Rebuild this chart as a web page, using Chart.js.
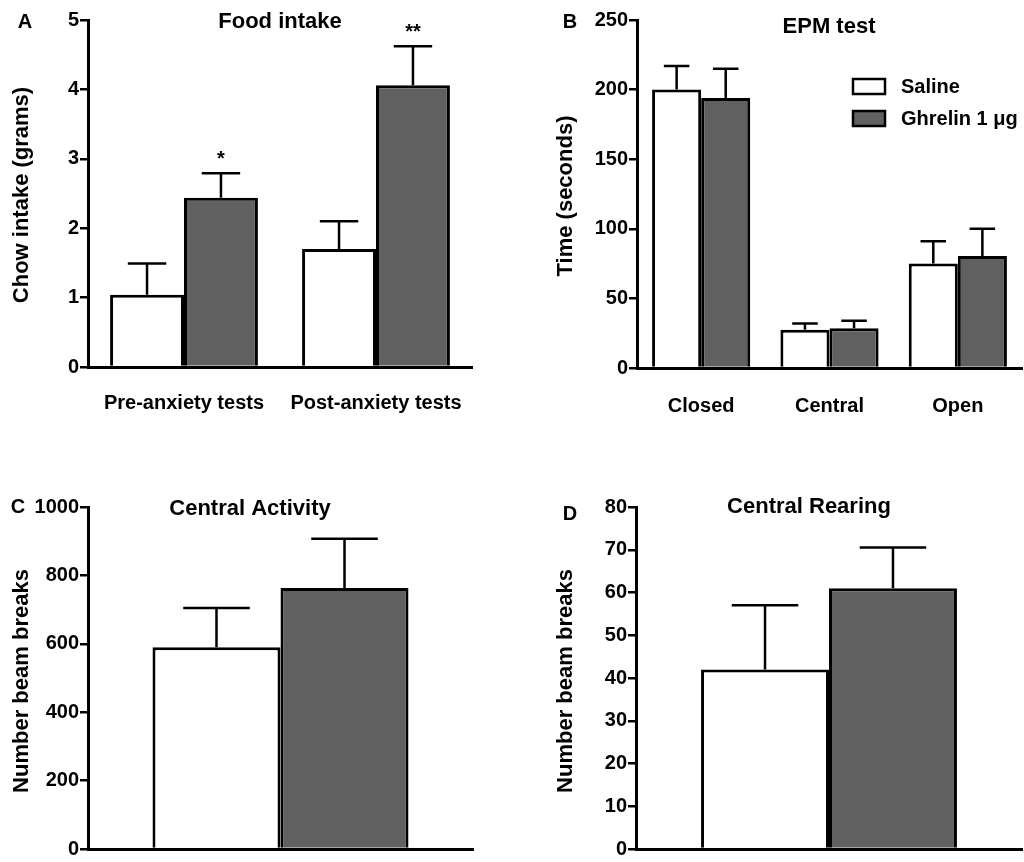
<!DOCTYPE html>
<html>
<head>
<meta charset="utf-8">
<script src="https://cdn.jsdelivr.net/npm/chart.js@4.4.1/dist/chart.umd.min.js"></script>
<style>
html, body { margin: 0; padding: 0; background: #fff; }
#wrap { position: relative; width: 1024px; height: 862px; overflow: hidden; }
canvas { position: absolute; }
</style>
</head>
<body>
<div id="wrap">
    <canvas id="panelA" width="512" height="430" style="left:0;top:0"></canvas>
    <canvas id="panelB" width="512" height="430" style="left:512px;top:0"></canvas>
    <canvas id="panelC" width="512" height="432" style="left:0;top:430px"></canvas>
    <canvas id="panelD" width="512" height="432" style="left:512px;top:430px"></canvas>
</div>
<script>
const seriesNames = ['Saline', 'Ghrelin 1 μg'];

// A: food intake
const foodCats = ['Pre-anxiety tests', 'Post-anxiety tests'];
const foodSaline = [1.04, 1.70];
const foodSalineSem = [0.45, 0.40];
const foodGhrelin = [2.44, 4.06];
const foodGhrelinSem = [0.35, 0.56];
const foodStars = ['*', '**'];

// B: EPM test
const epmCats = ['Closed', 'Central', 'Open'];
const epmSaline = [200, 27.5, 75];
const epmSalineSem = [17, 4.5, 16];
const epmGhrelin = [194, 28.5, 80.5];
const epmGhrelinSem = [21, 5.5, 19.5];

// C: central activity
const activityCats = [''];
const activitySaline = [590];
const activitySalineSem = [115];
const activityGhrelin = [763];
const activityGhrelinSem = [144];

// D: central rearing
const rearingCats = [''];
const rearingSaline = [42];
const rearingSalineSem = [15];
const rearingGhrelin = [61];
const rearingGhrelinSem = [9.5];

const FONT = '"Liberation Sans", Arial, Helvetica, sans-serif';
const FILLS = ['#ffffff', '#606060'];

const errorBars = {
    id: 'errorBars',
    afterDatasetsDraw(chart) {
        const ctx = chart.ctx, y = chart.scales.y;
        ctx.save();
        ctx.strokeStyle = '#000';
        ctx.lineWidth = 2.5;
        chart.data.datasets.forEach((ds, i) => {
            chart.getDatasetMeta(i).data.forEach((bar, j) => {
                const top = y.getPixelForValue(ds.data[j] + ds.sem[j]);
                const half = bar.width * 0.26;
                ctx.beginPath();
                ctx.moveTo(bar.x, bar.y);
                ctx.lineTo(bar.x, top);
                ctx.moveTo(bar.x - half, top);
                ctx.lineTo(bar.x + half, top);
                ctx.stroke();
            });
        });
        ctx.restore();
    }
};

function decoPlugin(deco) {
    return {
        id: 'deco',
        afterDraw(chart) {
            const ctx = chart.ctx;
            ctx.save();
            ctx.fillStyle = '#000';
            ctx.textAlign = 'center';
            ctx.textBaseline = 'middle';
            ctx.font = 'bold 20px ' + FONT;
            ctx.fillText(deco.letter, deco.letterPos[0], deco.letterPos[1]);
            ctx.font = 'bold 22px ' + FONT;
            ctx.fillText(deco.title, deco.titlePos[0], deco.titlePos[1]);
            ctx.save();
            ctx.translate(deco.yTitlePos[0], deco.yTitlePos[1]);
            ctx.rotate(-Math.PI / 2);
            ctx.fillText(deco.yTitle, 0, 0);
            ctx.restore();

            if (deco.stars) {
                const y = chart.scales.y, ds = chart.data.datasets[1];
                const meta = chart.getDatasetMeta(1);
                ctx.font = 'bold 20px ' + FONT;
                ctx.textBaseline = 'alphabetic';
                deco.stars.forEach((s, j) => {
                    const top = y.getPixelForValue(ds.data[j] + ds.sem[j]);
                    ctx.fillText(s, meta.data[j].x, top - 8);
                });
            }

            if (deco.legend) {
                const [lx, ly] = deco.legend;
                ctx.font = 'bold 20px ' + FONT;
                ctx.textAlign = 'left';
                ctx.textBaseline = 'middle';
                ctx.lineWidth = 2.5;
                ctx.strokeStyle = '#000';
                chart.data.datasets.forEach((ds, i) => {
                    const top = ly + i * 32;
                    ctx.fillStyle = ds.backgroundColor;
                    ctx.fillRect(lx, top, 32, 15);
                    ctx.strokeRect(lx, top, 32, 15);
                    ctx.fillStyle = '#000';
                    ctx.fillText(ds.label, lx + 48, top + 8);
                });
            }
            ctx.restore();
        }
    };
}

function makePanel(id, p) {
    const canvas = document.getElementById(id);
    const H = canvas.height, W = canvas.width;
    const datasets = [p.saline, p.ghrelin].map((vals, i) => ({
        label: seriesNames[i],
        data: vals,
        sem: i === 0 ? p.salineSem : p.ghrelinSem,
        backgroundColor: FILLS[i],
        borderColor: '#000',
        borderWidth: 3,
        barPercentage: 1,
        categoryPercentage: p.groupWidth
    }));
    return new Chart(canvas, {
        type: 'bar',
        data: { labels: p.cats, datasets },
        options: {
            responsive: false,
            animation: false,
            devicePixelRatio: 1,
            layout: { padding: { left: 0, top: p.area.top, right: W - p.area.right, bottom: 0 } },
            plugins: { legend: { display: false }, tooltip: { enabled: false } },
            scales: {
                x: {
                    z: 1,
                    grid: { display: false },
                    border: { display: true, width: 3, color: '#000' },
                    ticks: { display: p.showX, color: '#000', padding: p.xPad, font: { family: FONT, size: 20, weight: 'bold' } },
                    afterFit: s => { s.height = H - p.area.bottom; }
                },
                y: {
                    min: 0, max: p.yMax,
                    grid: { display: true, drawOnChartArea: false, drawTicks: true, tickLength: 8, lineWidth: 2.5, color: '#000' },
                    border: { display: true, width: 3, color: '#000' },
                    ticks: {
                        stepSize: p.yStep, color: '#000', padding: 1,
                        font: { family: FONT, size: 20, weight: 'bold' },
                        callback: v => String(v)
                    },
                    afterFit: s => { s.width = p.area.left; }
                }
            }
        },
        plugins: [errorBars, decoPlugin(p.deco)]
    });
}

makePanel('panelA', {
    cats: foodCats, saline: foodSaline, salineSem: foodSalineSem,
    ghrelin: foodGhrelin, ghrelinSem: foodGhrelinSem,
    yMax: 5, yStep: 1, groupWidth: 0.77, showX: true, xPad: 16,
    area: { left: 88, top: 20, right: 472, bottom: 367 },
    deco: { letter: 'A', letterPos: [25, 22], title: 'Food intake', titlePos: [280, 22],
            yTitle: 'Chow intake (grams)', yTitlePos: [22, 195], stars: foodStars }
});

makePanel('panelB', {
    cats: epmCats, saline: epmSaline, salineSem: epmSalineSem,
    ghrelin: epmGhrelin, ghrelinSem: epmGhrelinSem,
    yMax: 250, yStep: 50, groupWidth: 0.765, showX: true, xPad: 18,
    area: { left: 125, top: 20, right: 510, bottom: 368 },
    deco: { letter: 'B', letterPos: [58, 22], title: 'EPM test', titlePos: [317, 27],
            yTitle: 'Time (seconds)', yTitlePos: [54, 196], legend: [341, 79] }
});

makePanel('panelC', {
    cats: activityCats, saline: activitySaline, salineSem: activitySalineSem,
    ghrelin: activityGhrelin, ghrelinSem: activityGhrelinSem,
    yMax: 1000, yStep: 200, groupWidth: 0.665, showX: false, xPad: 0,
    area: { left: 88, top: 77, right: 473, bottom: 424 },
    deco: { letter: 'C', letterPos: [18, 77], title: 'Central Activity', titlePos: [250, 79],
            yTitle: 'Number beam breaks', yTitlePos: [22, 251] }
});

makePanel('panelD', {
    cats: rearingCats, saline: rearingSaline, salineSem: rearingSalineSem,
    ghrelin: rearingGhrelin, ghrelinSem: rearingGhrelinSem,
    yMax: 80, yStep: 10, groupWidth: 0.663, showX: false, xPad: 0,
    area: { left: 124, top: 77, right: 510, bottom: 424 },
    deco: { letter: 'D', letterPos: [58, 84], title: 'Central Rearing', titlePos: [297, 77],
            yTitle: 'Number beam breaks', yTitlePos: [54, 251] }
});
</script>
</body>
</html>
